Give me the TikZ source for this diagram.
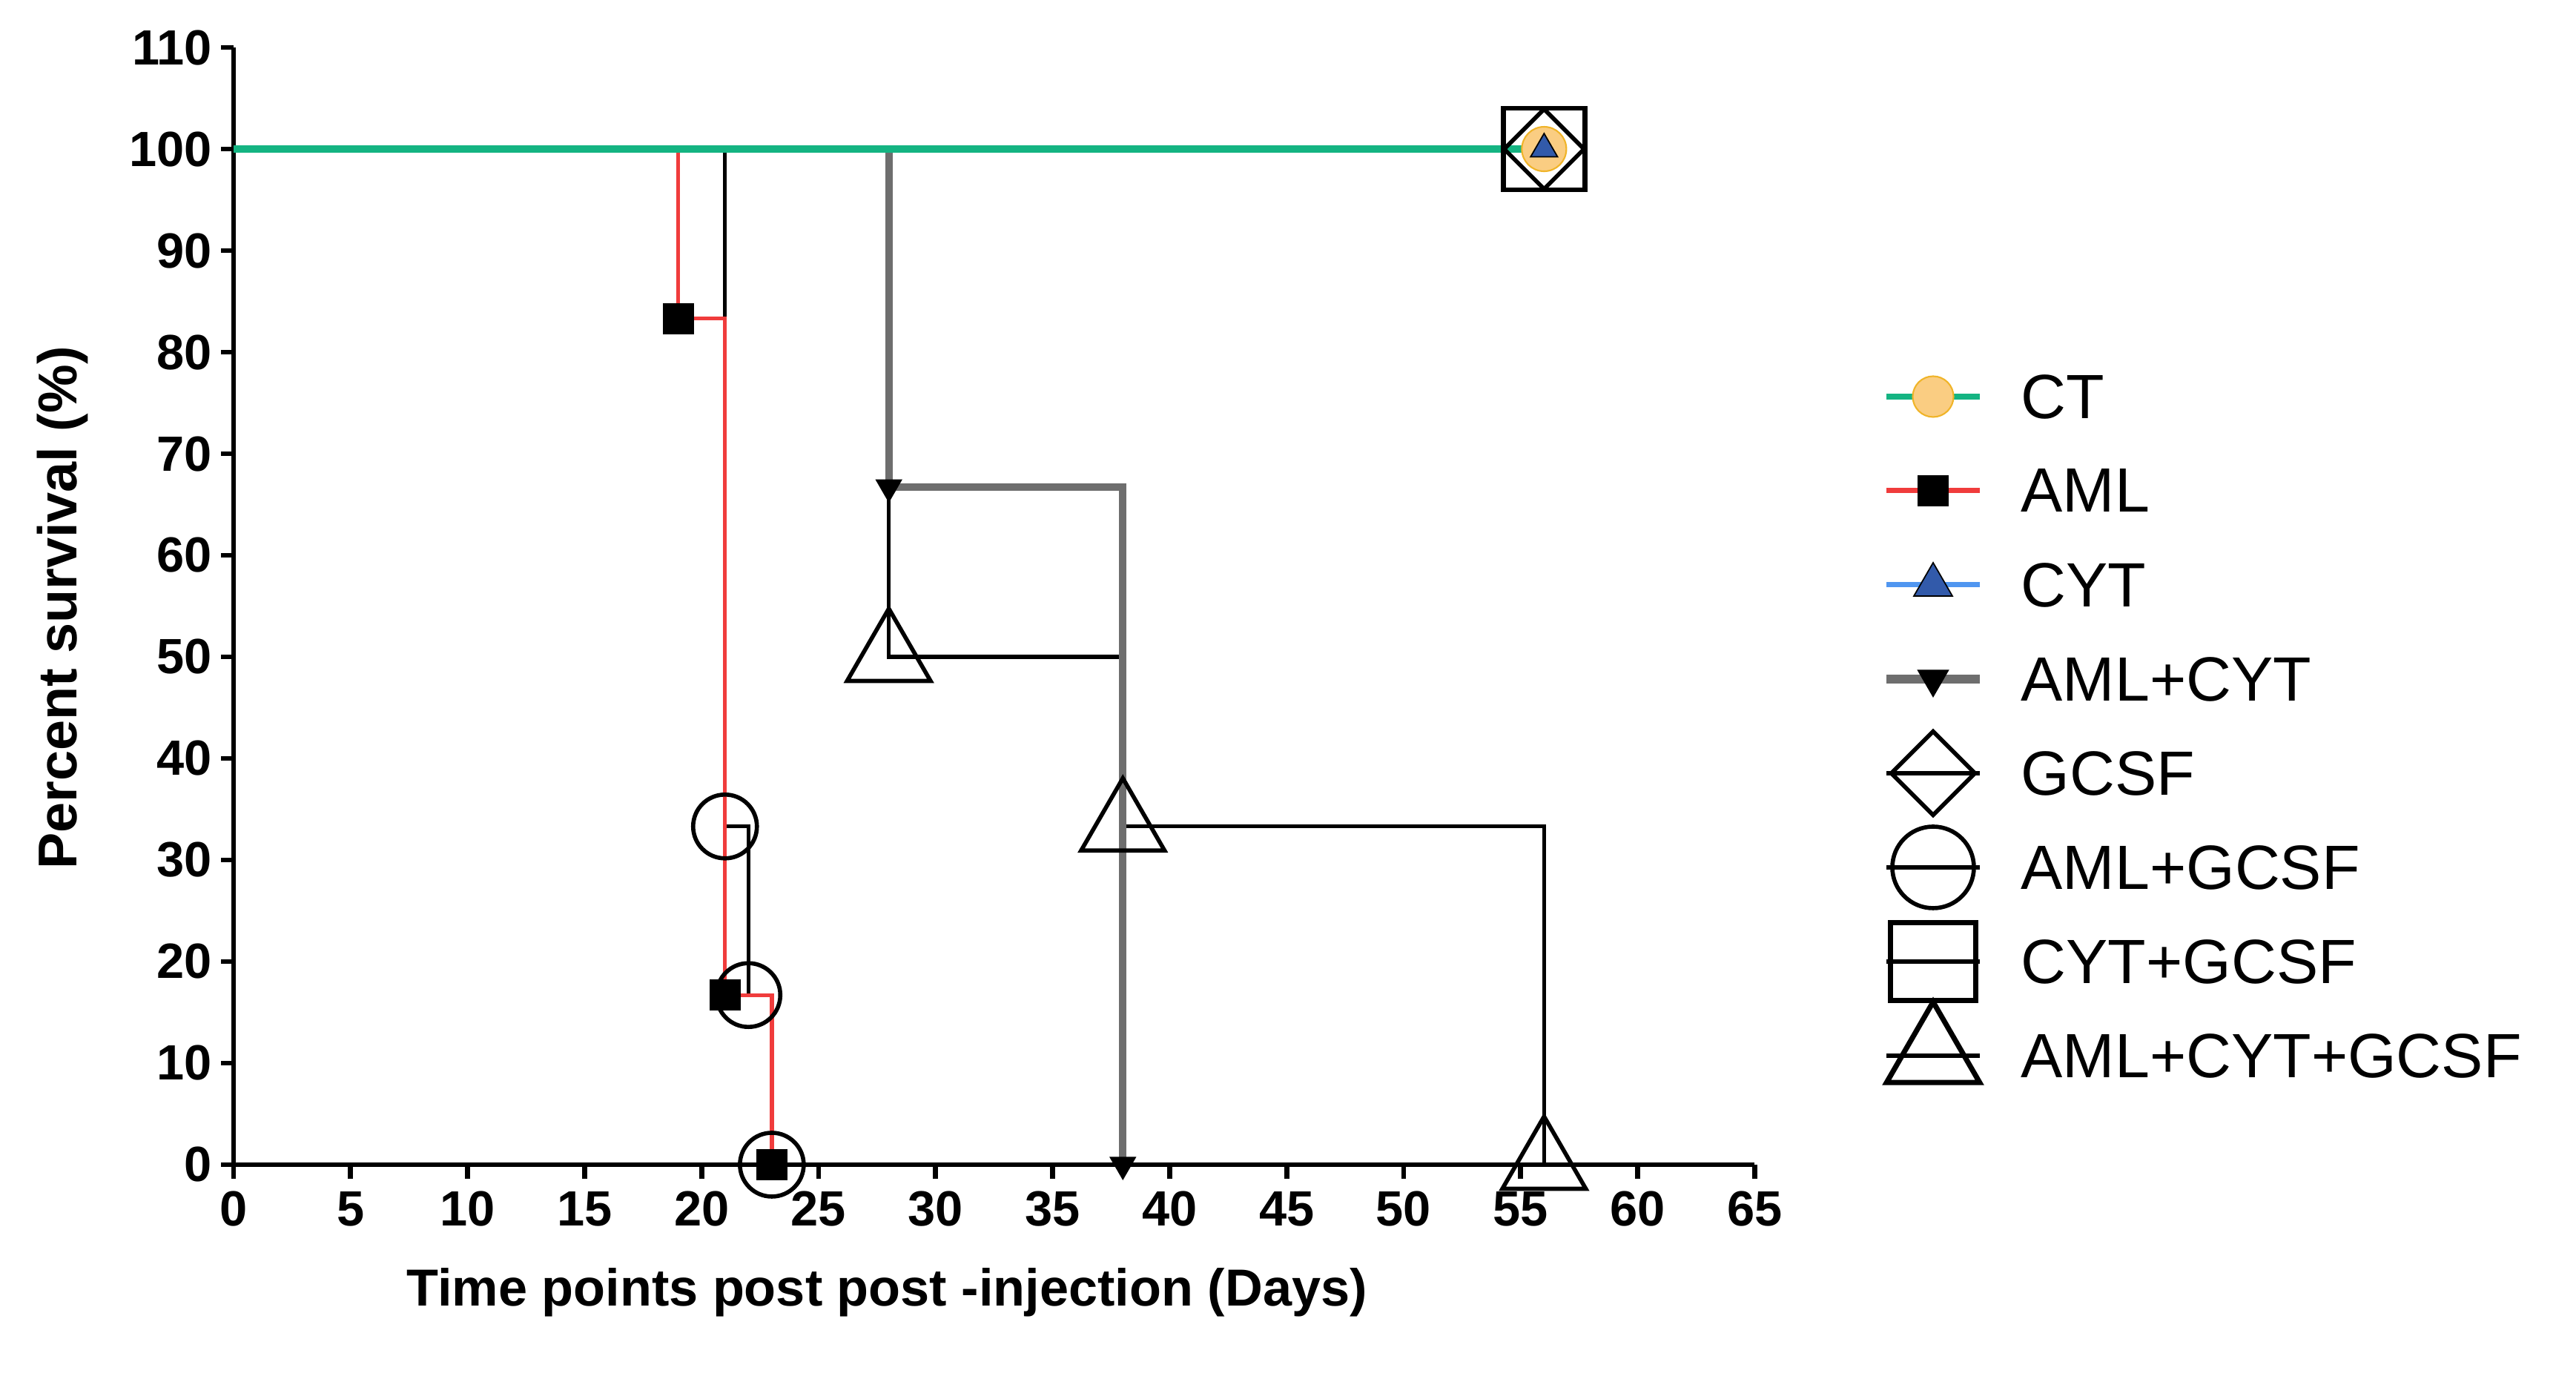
\documentclass[tikz,border=0pt]{standalone}
\usepackage{fontspec}
\setmainfont{Liberation Sans}
\usetikzlibrary{shapes.geometric}
\definecolor{ctg}{RGB}{20,180,130}
\definecolor{amlr}{RGB}{240,60,60}
\definecolor{cytb}{RGB}{80,150,240}
\definecolor{gr}{RGB}{110,110,110}
\definecolor{orf}{RGB}{250,205,130}
\definecolor{ord}{RGB}{240,180,40}
\definecolor{trb}{RGB}{50,90,170}
\tikzset{
 ax/.style={line width=1.9pt,black},
 tick/.style={font=\bfseries\fontsize{19}{19}\selectfont,inner sep=0pt},
 sq/.style={rectangle,fill=black,minimum size=0.42cm,inner sep=0pt},
 oc/.style={circle,draw,line width=1.6pt,minimum size=0.86cm,inner sep=0pt},
 ot/.style={regular polygon,regular polygon sides=3,draw,line width=1.6pt,minimum size=1.3cm,inner sep=0pt},
 dt/.style={regular polygon,regular polygon sides=3,shape border rotate=180,fill=black,minimum size=0.42cm,inner sep=0pt},
 osq/.style={rectangle,draw,line width=1.8pt,minimum size=1.1cm,inner sep=0pt},
 odi/.style={diamond,draw,line width=1.6pt,minimum size=1.1cm,inner sep=0pt},
 ctc/.style={circle,fill=orf,draw=ord,line width=0.6pt,minimum size=0.6cm,inner sep=0pt},
 cytt/.style={regular polygon,regular polygon sides=3,fill=trb,draw=black,line width=0.5pt,minimum size=0.42cm,inner sep=0pt},
 leg/.style={anchor=west,font=\fontsize{24}{24}\selectfont,inner sep=0pt},
}
\begin{document}
\begin{tikzpicture}
\useasboundingbox (0,0) rectangle (34.74,18.83);
\begin{scope}[shift={(3.15,3.12)},x=0.3156cm,y=0.137cm]
% axes
\draw[ax] (0,0) -- (65,0);
\draw[ax] (0,0) -- (0,110);
\foreach \v in {0,10,...,110}{
  \draw[ax] (0,\v) -- ++(-0.55,0);
  \node[tick,anchor=east] (yl\v) at (-0.9,\v) {\v};}
\foreach \v in {0,5,...,65}{
  \draw[ax] (\v,0) -- ++(0,-1.4);
  \node[tick,anchor=north] (xl\v) at (\v,-2.6) {\v};}
% AML+CYT+GCSF
\draw[black,line width=1.5pt] (0,100) -- (28,100) -- (28,50) -- (38,50) -- (38,33.3) -- (56,33.3) -- (56,0);
% AML+CYT (gray)
\draw[gr,line width=2.8pt] (0,100) -- (28,100) -- (28,66.7) -- (38,66.7) -- (38,0);
\draw[black,line width=1.5pt] (28,66.7) -- (28,50);
% AML+GCSF
\draw[black,line width=1.5pt] (0,100) -- (21,100) -- (21,33.3) -- (22,33.3) -- (22,16.7) -- (23,16.7) -- (23,0);
% AML red
\draw[amlr,line width=1.5pt] (0,100) -- (19,100) -- (19,83.3) -- (21,83.3) -- (21,16.7) -- (23,16.7) -- (23,0);
% CT green
\draw[ctg,line width=2.6pt] (0,100) -- (56,100);
% markers
\node[sq] (a1) at (19,83.3) {};
\node[sq] (a2) at (21,16.7) {};
\node[sq] (a3) at (23,0) {};
\node[oc] (g1) at (21,33.3) {};
\node[oc] (g2) at (22,16.7) {};
\node[oc] (g3) at (23,0) {};
\node[dt] (c1) at (28,66.7) {};
\node[dt] (c2) at (38,0) {};
\node[ot] (t1) at (28,50) {};
\node[ot] (t2) at (38,33.3) {};
\node[ot] (t3) at (56,0) {};
\node[osq] (s1) at (56,100) {};
\node[odi] (d1) at (56,100) {};
\node[ctc] (k1) at (56,100) {};
\node[cytt] (y1) at (56,100) {};
\end{scope}
% titles
\node[rotate=90,font=\bfseries\fontsize{21}{21}\selectfont] (yt) at (0.84,10.63) {Percent survival (\%)};
\node[font=\bfseries\fontsize{20}{20}\selectfont] (xt) at (11.96,1.40) {Time points post post -injection (Days)};
% legend
\foreach \i/\t in {0/CT,1/AML,2/CYT,3/AML+CYT,4/GCSF,5/AML+GCSF,6/CYT+GCSF,7/AML+CYT+GCSF}{
  \node[leg] (lt\i) at (27.25,{13.48-1.27*\i}) {\t};
  \coordinate (ls\i) at (25.44,{13.48-1.27*\i});
  \coordinate (le\i) at (26.70,{13.48-1.27*\i});
  \coordinate (lm\i) at (26.07,{13.48-1.27*\i});}
\draw[ctg,line width=2.4pt] (ls0) -- (le0);
\node[ctc,minimum size=0.55cm] (m0) at (lm0) {};
\draw[amlr,line width=2pt] (ls1) -- (le1);
\node[sq] (m1) at (lm1) {};
\draw[cytb,line width=2pt] (ls2) -- (le2);
\node[cytt,minimum size=0.6cm] (m2) at (lm2) {};
\draw[gr,line width=3.2pt] (ls3) -- (le3);
\node[dt,minimum size=0.5cm] (m3) at (lm3) {};
\draw[line width=1.8pt] (ls4) -- (le4);
\node[odi,minimum size=1.15cm] (m4) at (lm4) {};
\draw[line width=1.8pt] (ls5) -- (le5);
\node[oc,minimum size=1.1cm] (m5) at (lm5) {};
\draw[line width=1.8pt] (ls6) -- (le6);
\node[rectangle,draw,line width=2pt,minimum width=1.15cm,minimum height=1.05cm,inner sep=0pt] (m6) at (lm6) {};
\draw[line width=1.8pt] (ls7) -- (le7);
\node[ot,minimum size=1.45cm,line width=2pt] (m7) at (lm7) {};
\end{tikzpicture}
\end{document}
